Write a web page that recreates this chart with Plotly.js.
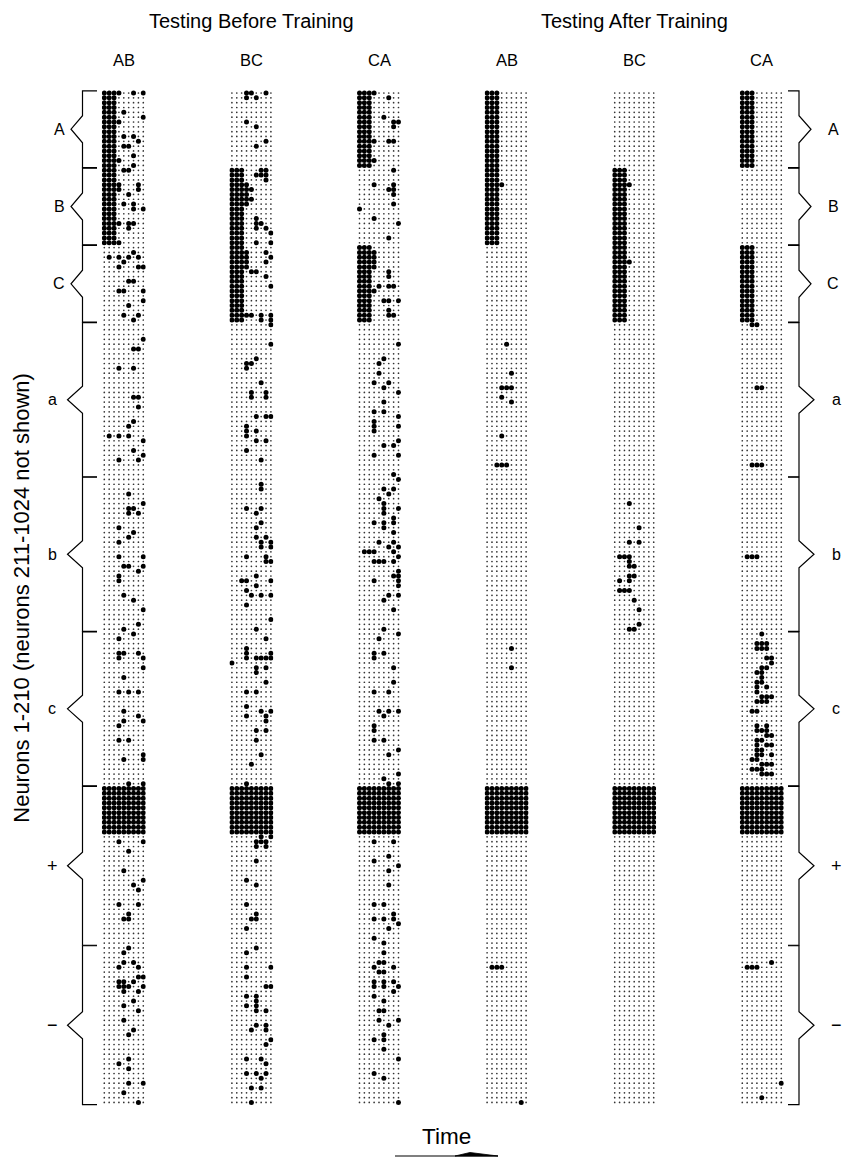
<!DOCTYPE html>
<html><head><meta charset="utf-8">
<script src="https://cdn.plot.ly/plotly-3.0.1.min.js"></script>
<style>html,body{margin:0;padding:0;background:#fff}</style>
</head><body><div id="chart" style="width:846px;height:1161px"></div>
<script>
// ---------------- data ----------------
const sectionTitles = ['Testing Before Training', 'Testing After Training'];
const panelNames = ['AB', 'BC', 'CA', 'AB', 'BC', 'CA'];
const groupNames = ['A', 'B', 'C', 'a', 'b', 'c', '+', '\u2212'];
const groupFirst = [0, 16, 32, 48, 80, 112, 144, 177];
const groupLast  = [15, 31, 47, 79, 111, 143, 176, 209];
const nRows = 210;
const nCols = 9;
const alwaysOnRows = [144, 153];
const yTitle = 'Neurons 1-210 (neurons 211-1024 not shown)';
const xTitle = 'Time';

// blocks of continuous firing: [firstRow, lastRow, col, col, ...]
const blocksBeforeAB = [[0, 31, 0, 1, 2]];
const blocksBeforeBC = [[16, 47, 0, 1, 2], [19, 23, 3], [33, 36, 3]];
const blocksBeforeCA = [[0, 15, 0, 1, 2], [32, 47, 0, 1, 2], [33, 36, 3]];
const blocksAfterAB = [[0, 31, 0, 1, 2]];
const blocksAfterBC = [[16, 47, 0, 1, 2]];
const blocksAfterCA = [[0, 15, 0, 1, 2], [32, 47, 0, 1, 2]];

// single firings: [row, col, col, ...]
const spikesBeforeAB = [[0,3,6,8],[4,4],[5,8],[6,3],[9,4,6],[10,7],[11,4,5],[13,6],[14,3],[15,6],[16,4,5],
 [19,3,7],[20,3,7],[21,5],[23,4,6],[24,6,8],[27,3,5,6],[28,5],[31,3],[33,6],[34,1,3,5,7],[35,4],[36,3,7,8],
 [39,5,6],[41,3,4,8],[43,8],[44,5],[46,4,7],[47,6],[51,8],[53,6,7],[57,3,6],[63,6,7],[65,7],[68,6],[69,5],
 [71,1,3,5],[72,8],[74,6],[75,8],[76,3,7],[83,5],[85,8],[86,5,6],[87,5,7],[90,3],[91,6],[92,5],[93,3],
 [96,3,8],[98,4,5,8],[99,7],[100,3],[101,3],[104,4],[105,6],[107,8],[110,7],[111,4],[112,6],[113,3],
 [116,3,4,7],[117,3,8],[119,8],[121,4],[124,3,5,7],[128,4],[129,7],[130,4,8],[131,3],[134,3,5],[137,8],
 [138,4,8],[143,5,8],[155,3,8],[157,5],[161,4],[163,8],[164,6],[165,7],[168,3,7],[170,5],[171,4,5],[177,5],
 [178,4],[180,4,6],[181,3,7],[183,7,8],[184,3,4,6],[185,3,4,5,8],[186,4,7],[188,6],[189,4],[190,7],[192,4],
 [194,6],[195,5],[200,5],[201,3],[202,5],[205,5,8],[207,4],[209,7]];
const spikesBeforeBC = [[0,3,4,7],[1,3,5],[6,3],[7,5],[10,7],[11,5],[16,6,7],[17,5,6,7],[18,7],[20,4],[22,4],
 [26,5],[27,5,6],[28,5,7],[29,8],[31,5,8],[33,7],[34,8],[35,7],[37,4,5],[38,7],[40,8],[46,3,4,6,8],[47,6,8],
 [48,8],[52,8],[55,5],[56,3,4],[57,3],[60,6],[62,4,7],[63,4,7],[67,5,7,8],[69,3],[70,3,5],[71,3],[72,5,7],
 [74,3],[76,6],[81,6],[82,6],[86,3,6],[87,5],[89,6],[90,5],[92,5,7],[93,6,8],[94,6,8],[96,3,7],[97,7,8],
 [100,5],[101,2,3,8],[102,5],[103,3],[104,4,6,8],[106,3],[109,8],[111,5],[113,7],[115,3],[116,3,8],
 [117,3,5,6,7,8],[118,0],[119,5,7],[120,5],[122,7],[124,3,5],[127,3],[128,6,8],[129,3,7],[130,7],[132,5,7],
 [134,5],[137,6],[139,4],[143,3],[154,6,8],[155,5,6,7],[156,5,7],[159,5],[163,3],[164,5],[168,3],[170,5],
 [171,4,5],[173,3],[177,5],[178,3],[181,3,8],[183,3],[185,7,8],[187,3,5],[188,5],[189,3,5],[190,5,7],
 [193,5,7],[194,4,7],[196,8],[197,7],[200,3,6],[201,7],[203,3,5,7],[204,6],[206,4,6],[209,4]];
const spikesBeforeCA = [[0,3],[1,6],[5,5],[6,7,8],[7,7],[10,3,6,7],[14,3],[16,7],[19,3,7],[20,6,7],[21,7],
 [23,7],[24,0],[26,3],[27,8],[30,6],[37,6],[38,6],[40,4,6,7],[41,3],[43,5,6,8],[45,6],[46,6,7],[52,8],[55,5],
 [56,4],[58,4],[60,3,6],[61,5],[62,8],[64,5],[66,3,5],[67,8],[68,3],[69,3,8],[70,3],[72,8],[73,5,7],[75,3,8],
 [79,7],[80,8],[82,5,7],[83,6],[84,4],[85,5],[86,5,8],[87,5],[88,7],[89,3,5,7],[90,5],[91,7],[93,4,7],
 [94,6,8],[95,1,2,3,7],[96,8],[97,3,4,5,7],[99,8],[100,7,8],[101,3,8],[102,8],[104,6,8],[105,5],[107,7],
 [111,5],[112,8],[113,4],[116,3,5],[117,3],[119,7],[122,7],[124,3,6],[128,4,6,8],[129,5],[131,3],[132,3],
 [134,3,5],[136,8],[137,6],[141,8],[142,5],[143,6,8],[155,3,7],[158,6],[159,3],[160,8],[161,6],[164,6],
 [168,3,5],[170,7],[171,3,5,7],[172,8],[173,6],[175,3],[176,5],[178,5],[180,4,5],[181,3,7],[182,4,5],
 [184,3,5,7],[185,3,5,8],[186,7],[187,3],[188,5],[190,4,5],[192,4,8],[193,6],[195,5],[196,3,5],[198,5],
 [200,8],[203,3],[204,5],[209,8]];
const spikesAfterAB = [[19,3],[52,4],[58,5],[61,3,4,5],[63,3],[64,5],[71,3],[77,2,3,4],[115,5],[119,5],
 [181,1,2,3],[209,7]];
const spikesAfterBC = [[19,3],[35,3],[85,3],[90,5],[93,3,5],[96,1,2,3],[97,3],[98,3,4],[100,3,4],[101,1,3],
 [103,1,2,3],[105,4],[107,5],[110,5],[111,3,4]];
const spikesAfterCA = [[48,2,3],[61,3,4],[77,2,3,4],[96,1,2,3],[112,4],[114,3,4,5],[115,3,4,5],[117,5,6],
 [118,6],[119,4,5],[120,3,4],[121,4],[122,3,4],[123,3,5],[124,3],[125,4,5,6],[126,3,4,5],[128,2,3],
 [131,3,5],[132,3,4,5],[133,5,6],[134,3,4],[135,3,5,6],[136,3,4],[137,3,4,6],[138,2,3],[139,4,5,6],
 [140,2,3,4],[141,4,5,6],[180,6],[181,1,2,3],[205,8],[208,4]];

const panelBlocks = [blocksBeforeAB, blocksBeforeBC, blocksBeforeCA, blocksAfterAB, blocksAfterBC, blocksAfterCA];
const panelSpikes = [spikesBeforeAB, spikesBeforeBC, spikesBeforeCA, spikesAfterAB, spikesAfterBC, spikesAfterCA];

// ---------------- geometry ----------------
const W = 846, H = 1161;
const rowTop = 93, rowStep = 4.83;
const colStep = 4.875, panelLeft0 = 104.3, panelGap = 127.6;
const font = 'Liberation Sans, Arial, Helvetica, sans-serif';
const px = v => v / W;
const py = v => 1 - v / H;

const layout = {
  width: W, height: H, margin: {l: 0, r: 0, t: 0, b: 0},
  paper_bgcolor: '#fff', plot_bgcolor: 'rgba(0,0,0,0)', showlegend: false,
  yaxis: {range: [(H - rowTop) / rowStep, -rowTop / rowStep], domain: [0, 1], visible: false, fixedrange: true},
  annotations: [], shapes: []
};
const traces = [];

// grid
const gx = [], gy = [];
for (let r = 0; r < nRows; r++) for (let c = 0; c < nCols; c++) { gx.push(c); gy.push(r); }

panelNames.forEach((name, p) => {
  const axId = p === 0 ? 'x' : 'x' + (p + 1);
  const axKey = p === 0 ? 'xaxis' : 'xaxis' + (p + 1);
  const x0 = panelLeft0 + p * panelGap;
  layout[axKey] = {domain: [px(x0 - 0.5 * colStep), px(x0 + 8.5 * colStep)], range: [-0.5, 8.5],
                   visible: false, anchor: 'y', fixedrange: true};
  traces.push({type: 'scatter', mode: 'markers', x: gx, y: gy, xaxis: axId, yaxis: 'y', hoverinfo: 'skip',
               marker: {size: 1.7, color: '#333', line: {width: 0}}});
  const sx = [], sy = [];
  const add = (r, c) => { sx.push(c); sy.push(r); };
  for (let r = alwaysOnRows[0]; r <= alwaysOnRows[1]; r++) for (let c = 0; c < nCols; c++) add(r, c);
  panelBlocks[p].forEach(b => { for (let r = b[0]; r <= b[1]; r++) b.slice(2).forEach(c => add(r, c)); });
  panelSpikes[p].forEach(s => s.slice(1).forEach(c => add(s[0], c)));
  traces.push({type: 'scatter', mode: 'markers', x: sx, y: sy, xaxis: axId, yaxis: 'y', hoverinfo: 'skip',
               marker: {size: 5.0, color: '#000', line: {width: 0}}});
  layout.annotations.push({text: name, x: px(x0 + 4 * colStep), y: py(60), xref: 'paper', yref: 'paper',
    showarrow: false, xanchor: 'center', yanchor: 'middle', font: {family: font, size: 16.5, color: '#000'}});
});

// section titles
[0, 1].forEach(s => {
  const cx = panelLeft0 + (3 * s + 1) * panelGap + 4 * colStep;
  layout.annotations.push({text: sectionTitles[s], x: px(cx), y: py(21), xref: 'paper', yref: 'paper',
    showarrow: false, xanchor: 'center', yanchor: 'middle', font: {family: font, size: 20, color: '#000'}});
});

// braces + group labels
groupNames.forEach((g, i) => {
  const small = i < 3;
  const sign = i >= 6;
  const yT = groupFirst[i] - 0.45, yB = groupLast[i] + 0.45, yM = (groupFirst[i] + groupLast[i]) / 2;
  const d = 2.8;
  const lt = px(97), lv = px(82.5), lp = px(small ? 71 : 67.5);
  layout.shapes.push({type: 'path', xref: 'paper', yref: 'y', line: {color: '#000', width: 1.2},
    path: `M${lt},${yT} L${lv},${yT} L${lv},${yM - d} L${lp},${yM} L${lv},${yM + d} L${lv},${yB} L${lt},${yB}`});
  const rt = px(788), rv = px(799), rp = px(small ? 811 : 814);
  layout.shapes.push({type: 'path', xref: 'paper', yref: 'y', line: {color: '#000', width: 1.2},
    path: `M${rt},${yT} L${rv},${yT} L${rv},${yM - d} L${rp},${yM} L${rv},${yM + d} L${rv},${yB} L${rt},${yB}`});
  const fs = sign ? 18 : 16;
  layout.annotations.push({text: g, x: px(small ? 59 : 52), y: yM, xref: 'paper', yref: 'y', showarrow: false,
    xanchor: 'center', yanchor: 'middle', font: {family: font, size: fs, color: '#000'}});
  layout.annotations.push({text: g, x: px(small ? 833 : 836), y: yM, xref: 'paper', yref: 'y', showarrow: false,
    xanchor: 'center', yanchor: 'middle', font: {family: font, size: fs, color: '#000'}});
});

// axis titles
layout.annotations.push({text: yTitle, x: px(22), y: (groupFirst[0] + groupLast[7]) / 2, xref: 'paper', yref: 'y',
  textangle: -90, showarrow: false, xanchor: 'center', yanchor: 'middle', font: {family: font, size: 22, color: '#000'}});
layout.annotations.push({text: xTitle, x: px(446), y: py(1136), xref: 'paper', yref: 'paper', showarrow: false,
  xanchor: 'center', yanchor: 'middle', font: {family: font, size: 22.5, color: '#000'}});
// time arrow
layout.shapes.push({type: 'line', xref: 'paper', yref: 'paper', x0: px(395), x1: px(498), y0: py(1156), y1: py(1156),
  line: {color: '#000', width: 1.2}});
layout.shapes.push({type: 'path', xref: 'paper', yref: 'paper', fillcolor: '#000', line: {color: '#000', width: 0.8},
  path: `M${px(455)},${py(1156)} L${px(498)},${py(1156)} L${px(470)},${py(1152.5)} Z`});

Plotly.newPlot('chart', traces, layout, {staticPlot: true, displayModeBar: false});
</script></body></html>
